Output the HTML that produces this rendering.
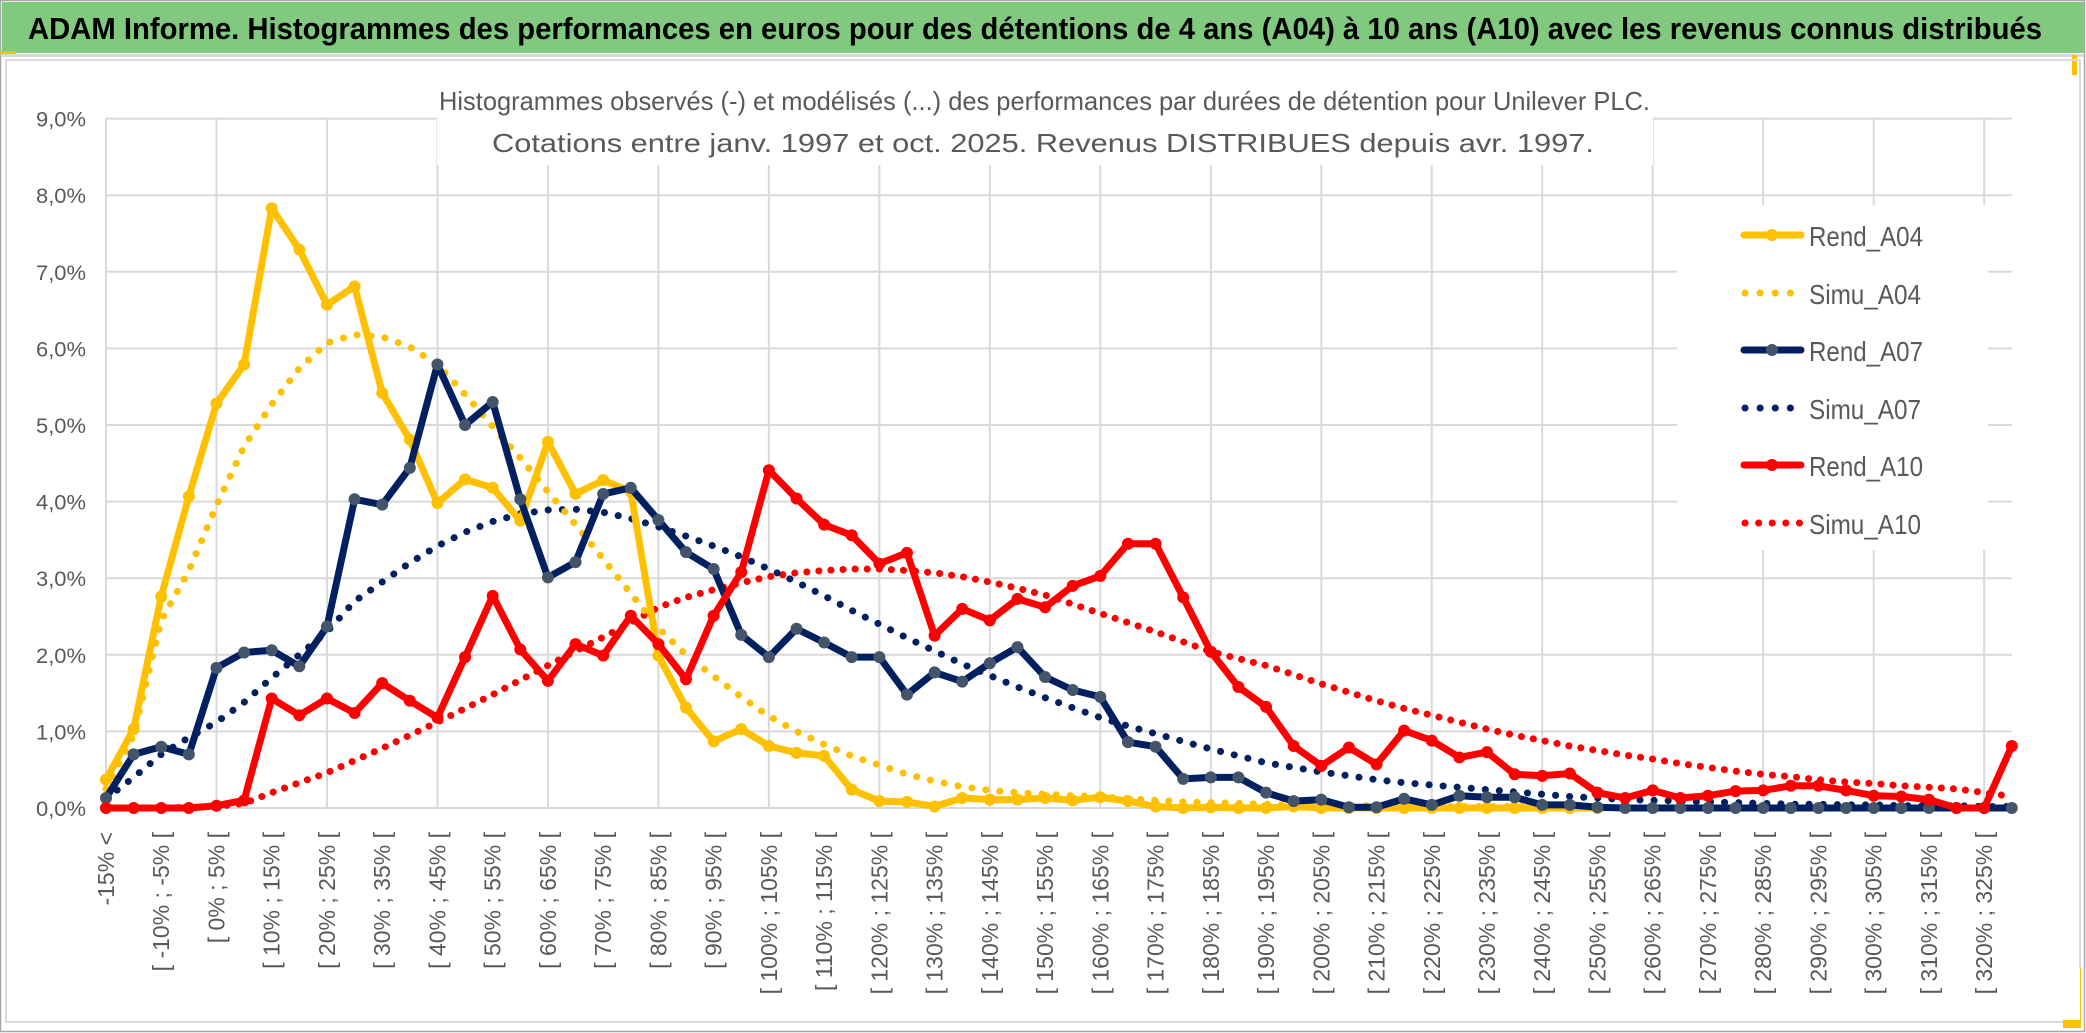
<!DOCTYPE html>
<html><head><meta charset="utf-8">
<style>
html,body{margin:0;padding:0;background:#fff;}
svg{display:block;font-family:"Liberation Sans",sans-serif;}
</style></head>
<body>
<svg id="chart" width="2086" height="1033" viewBox="0 0 2086 1033" xmlns="http://www.w3.org/2000/svg">
  <rect x="0" y="0" width="2086" height="1033" fill="#ffffff"/>
  <rect x="0.5" y="0.5" width="2084" height="1031" fill="none" stroke="#a6a6a6" stroke-width="1.5"/>
  <rect x="2" y="2" width="2082" height="51" fill="#80c97f"/>
  <rect x="0" y="51" width="16" height="4" fill="#ffc000"/>
  <rect x="2" y="54" width="2082" height="3" fill="#d9d9d9"/>
  <rect x="2072" y="55" width="5" height="20" fill="#ffc000"/>
  <text x="28" y="39" font-size="31" font-weight="bold" fill="#000" textLength="2014" lengthAdjust="spacingAndGlyphs">ADAM Informe. Histogrammes des performances en euros pour des détentions de 4 ans (A04) à 10 ans (A10) avec les revenus connus distribués</text>
  <rect x="6" y="60" width="2074" height="962" fill="none" stroke="#d9d9d9" stroke-width="2"/>
  <rect x="2063" y="968" width="18" height="60" fill="#ffc000"/>
  <rect x="2060" y="968" width="20" height="52" fill="#fff"/>
  <g id="grid"></g>
  <rect x="437" y="62" width="1216" height="103" fill="#fff"/>
  <text x="439" y="110" font-size="26" fill="#595959" textLength="1211" lengthAdjust="spacingAndGlyphs">Histogrammes observés (-) et modélisés (...) des performances par durées de détention pour Unilever PLC.</text>
  <text x="492" y="152" font-size="26" fill="#595959" textLength="1102" lengthAdjust="spacingAndGlyphs">Cotations entre janv. 1997 et oct. 2025. Revenus DISTRIBUES depuis avr. 1997.</text>
  <g id="yaxis"></g>
  <g id="xaxis"></g>
  <g id="series"></g>
  <g id="legend"></g>
</svg>
<script>
// ---- data ----
const categories = (function(){const c=["-15% <"];for(let a=-15;a<=325;a+=5){c.push("[ "+a+"% ; "+(a+5)+"% [");}return c;})();
const yTicks = [0,1,2,3,4,5,6,7,8,9];
const yTickLabels = ["0,0%","1,0%","2,0%","3,0%","4,0%","5,0%","6,0%","7,0%","8,0%","9,0%"];
const rendA04 = [0.37,1.03,2.76,4.07,5.28,5.79,7.83,7.29,6.57,6.81,5.42,4.81,3.98,4.29,4.18,3.75,4.78,4.1,4.28,4.13,1.99,1.31,0.87,1.03,0.81,0.72,0.68,0.24,0.09,0.08,0.02,0.13,0.11,0.11,0.13,0.1,0.14,0.09,0.02,0.0,0.01,0.0,0.0,0.02,0.0,0.0,0.0,0.0,0.0,0.0,0.0,0.0,0.0,0.0,0.0];
const simuA04 = [0.25,0.95,2.45,3.1,3.95,4.72,5.27,5.74,6.07,6.18,6.15,6.02,5.79,5.4,4.98,4.57,4.13,3.7,3.25,2.8,2.35,2.0,1.72,1.45,1.2,1.0,0.83,0.68,0.56,0.44,0.35,0.28,0.23,0.2,0.18,0.16,0.15,0.12,0.1,0.08,0.07,0.06,0.05,0.04,0.04,0.03,0.03,0.03,0.02,0.02,0.02,0.02,0.02,0.02,0.02];
const rendA07 = [0.13,0.7,0.8,0.7,1.83,2.03,2.06,1.85,2.37,4.03,3.96,4.44,5.79,5.0,5.3,4.03,3.01,3.21,4.1,4.18,3.76,3.34,3.12,2.26,1.97,2.34,2.16,1.97,1.97,1.48,1.77,1.65,1.89,2.1,1.71,1.54,1.45,0.86,0.8,0.38,0.4,0.4,0.2,0.09,0.11,0.01,0.01,0.12,0.04,0.16,0.14,0.14,0.04,0.04,0.01,0,0,0,0,0,0,0,0,0,0,0,0,0,0,0];
const simuA07 = [0.12,0.4,0.7,0.92,1.12,1.38,1.7,2.0,2.3,2.7,2.95,3.2,3.42,3.6,3.74,3.84,3.89,3.9,3.86,3.78,3.67,3.55,3.42,3.28,3.12,2.95,2.77,2.58,2.4,2.22,2.05,1.88,1.73,1.58,1.44,1.31,1.18,1.07,0.97,0.87,0.77,0.68,0.59,0.53,0.47,0.42,0.37,0.33,0.3,0.27,0.24,0.21,0.18,0.15,0.13,0.11,0.1,0.09,0.08,0.07,0.06,0.05,0.05,0.04,0.04,0.03,0.03,0.03,0.02,0.02];
const rendA10 = [0,0,0,0,0.03,0.1,1.43,1.21,1.43,1.24,1.63,1.4,1.18,1.97,2.77,2.07,1.66,2.14,1.99,2.51,2.14,1.68,2.51,3.08,4.41,4.04,3.7,3.56,3.19,3.33,2.25,2.6,2.45,2.73,2.62,2.9,3.03,3.45,3.45,2.75,2.04,1.58,1.32,0.81,0.55,0.79,0.57,1.01,0.88,0.66,0.73,0.44,0.42,0.45,0.2,0.13,0.23,0.13,0.16,0.22,0.23,0.29,0.29,0.23,0.16,0.15,0.11,0,0,0.81];
const simuA10 = [0,0,0,0.01,0.02,0.06,0.2,0.33,0.46,0.62,0.78,0.95,1.12,1.3,1.48,1.67,1.86,2.05,2.23,2.42,2.62,2.75,2.85,2.94,3.02,3.07,3.1,3.12,3.12,3.1,3.07,3.02,2.95,2.87,2.78,2.66,2.54,2.42,2.3,2.17,2.04,1.95,1.86,1.74,1.62,1.51,1.4,1.3,1.21,1.12,1.03,0.95,0.88,0.81,0.75,0.69,0.64,0.58,0.53,0.48,0.44,0.41,0.37,0.34,0.32,0.29,0.27,0.25,0.2,0.15];
const seriesNames = ["Rend_A04","Simu_A04","Rend_A07","Simu_A07","Rend_A10","Simu_A10"];

// ---- layout ----
const NS="http://www.w3.org/2000/svg";
const X0=106, STEP=27.62, Y0=808, PERPCT=76.6, XR=2012;
function xs(i){return X0+i*STEP;}
function ys(v){return Y0-v*PERPCT;}
function mk(tag,attrs,parent){const e=document.createElementNS(NS,tag);for(const k in attrs)e.setAttribute(k,attrs[k]);parent.appendChild(e);return e;}

const grid=document.getElementById('grid');
yTicks.forEach(function(t){
  const l=mk('line',{x1:X0,x2:XR,y1:ys(t),y2:ys(t),stroke:'#d9d9d9','stroke-width':2},grid);
  
  
});
for(let i=0;i<categories.length;i+=4){
  const l=mk('line',{x1:xs(i),x2:xs(i),y1:ys(9),y2:ys(0),stroke:'#d9d9d9','stroke-width':2},grid);
  
  
}
const yax=document.getElementById('yaxis');
yTicks.forEach(function(t,k){
  const tx=mk('text',{x:86,y:ys(t)+8,'text-anchor':'end','font-size':21,fill:'#595959',textLength:50,lengthAdjust:'spacingAndGlyphs'},yax);
  tx.textContent=yTickLabels[k];
  
  
});
const xax=document.getElementById('xaxis');
for(let i=0;i<categories.length;i+=2){
  const x=xs(i)+8, y=832;
  const tx=mk('text',{x:x,y:y,'text-anchor':'end','font-size':23,fill:'#595959',transform:'rotate(-90 '+x+' '+y+')'},xax);
  tx.textContent=categories[i];
  
  
}

const ser=document.getElementById('series');
function pathFor(arr){let d='';arr.forEach(function(v,i){if(v===null||v===undefined)return;d+=(d?'L':'M')+xs(i).toFixed(1)+','+ys(v).toFixed(1);});return d;}
function drawDotted(arr,color,name,dash){
  const p=mk('path',{d:pathFor(arr),fill:'none',stroke:color,'stroke-width':7,'stroke-linecap':'round','stroke-linejoin':'round','stroke-dasharray':dash},ser);
  
  
}
function drawSolid(arr,color,mcolor,name){
  const g=mk('g',{},ser);
  
  
  const p=mk('path',{d:pathFor(arr),fill:'none',stroke:color,'stroke-width':7,'stroke-linejoin':'round','stroke-linecap':'round'},g);
  
  
  arr.forEach(function(v,i){
    if(v===null||v===undefined)return;
    const c=mk('circle',{cx:xs(i),cy:ys(v),r:6,fill:mcolor},g);
    
    
  });
}
drawDotted(simuA10,'#ff0000','simu-a10-line','0.1 12');
drawDotted(simuA07,'#002060','simu-a07-line','0.1 14');
drawDotted(simuA04,'#ffc000','simu-a04-line','0.1 14');
drawSolid(rendA04,'#ffc000','#ffc000','rend-a04-series');
drawSolid(rendA07,'#002060','#44546a','rend-a07-series');
drawSolid(rendA10,'#ff0000','#ff0000','rend-a10-series');

// legend
const lg=document.getElementById('legend');
const lbox=mk('rect',{x:1677,y:205,width:311,height:345,fill:'#fff'},lg);


const legY=[235,293,350,408,465,523];
const legColors=['#ffc000','#ffc000','#002060','#002060','#ff0000','#ff0000'];
const legMarker=['#ffc000',null,'#44546a',null,'#ff0000',null];
seriesNames.forEach(function(n,k){
  const g=mk('g',{},lg);
  
  
  const y=legY[k];
  if(legMarker[k]){
    const l=mk('line',{x1:1744,x2:1801,y1:y,y2:y,stroke:legColors[k],'stroke-width':7,'stroke-linecap':'round'},g);
    
    
    const c=mk('circle',{cx:1772,cy:y,r:6,fill:legMarker[k]},g);
    
    
  } else {
    const l=mk('line',{x1:1745,x2:1800,y1:y,y2:y,stroke:legColors[k],'stroke-width':7,'stroke-linecap':'round','stroke-dasharray':k===5?'0.1 13.5':'0.1 15'},g);
    
    
  }
  const t=mk('text',{x:1809,y:y+11,'font-size':28,fill:'#595959',textLength:k%2===0?114:112,lengthAdjust:'spacingAndGlyphs'},g);
  t.textContent=n;
  
  
});
</script>
</body></html>
